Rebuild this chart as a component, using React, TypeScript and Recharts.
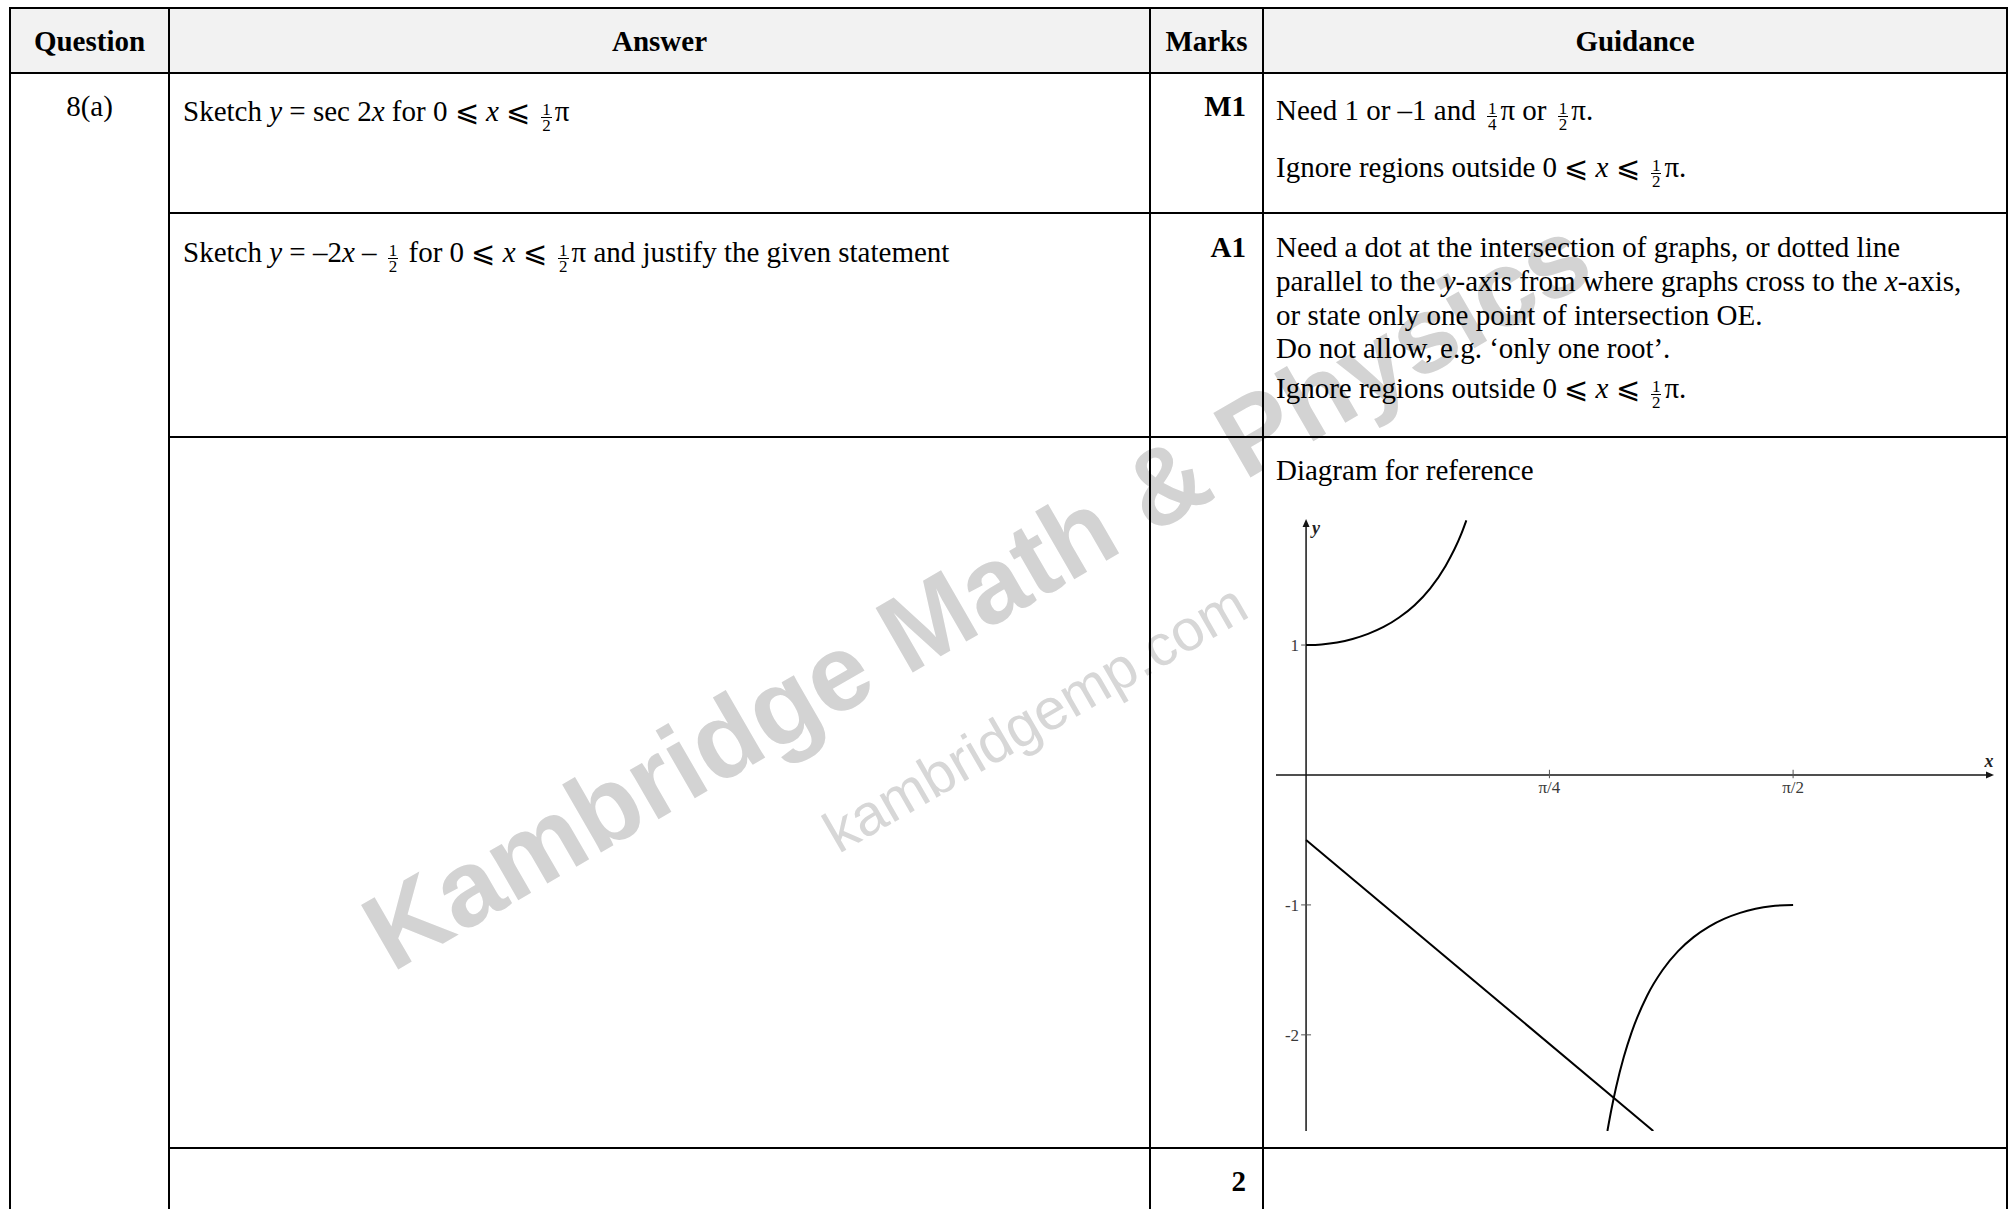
import React from 'react';
import { LineChart, Line, XAxis, YAxis, ReferenceLine } from 'recharts';

// points
const upperX = [0, 0.05, 0.1, 0.15, 0.2, 0.25, 0.3, 0.35, 0.4, 0.45, 0.5, 0.517];
const upperY = [1, 1.005, 1.02, 1.047, 1.086, 1.139, 1.212, 1.307, 1.435, 1.609, 1.851, 1.96];
const lowerX = [0.972, 0.985, 1.0, 1.025, 1.05, 1.1, 1.15, 1.2, 1.25, 1.3, 1.35, 1.4, 1.45, 1.5, 1.571];
const lowerY = [-2.74, -2.573, -2.403, -2.169, -1.981, -1.699, -1.501, -1.356, -1.248, -1.167, -1.106, -1.061, -1.03, -1.01, -1];
const lineX = [0, 1.12];
const lineY = [-0.5, -2.74];

const xTickValues = [0.785, 1.571];
const xTickLabels = ['π/4', 'π/2'];
const yTickValues = [1, -1, -2];
const yTickLabels = ['1', '-1', '-2'];

const xDomain = [-0.097, 2.219];
const yDomain = [-2.74, 1.97];

const zip = (xs: number[], ys: number[]) => xs.map((x, i) => ({ x, y: ys[i] }));

const SERIF = '"Liberation Serif", "Times New Roman", serif';
const AXIS = '#151515';

const Frac = ({ n, d }: { n: string; d: string }) => (
  <span
    style={{
      display: 'inline-block',
      verticalAlign: '-10px',
      textAlign: 'center',
      fontSize: '17px',
      lineHeight: '15px',
      margin: '0 3px 0 4px',
    }}
  >
    <span style={{ display: 'block', borderBottom: '1px solid #000', padding: '0 1px' }}>{n}</span>
    <span style={{ display: 'block' }}>{d}</span>
  </span>
);

const I = ({ children }: { children: React.ReactNode }) => <i>{children}</i>;

interface TxtProps {
  x: number;
  base: number;
  w?: number;
  align?: 'left' | 'center' | 'right';
  bold?: boolean;
  children: React.ReactNode;
}

const Txt = ({ x, base, w, align = 'left', bold, children }: TxtProps) => (
  <div
    style={{
      position: 'absolute',
      left: x,
      top: base - 27,
      width: w,
      textAlign: align,
      fontFamily: SERIF,
      fontSize: 29,
      lineHeight: '34px',
      fontWeight: bold ? 'bold' : 'normal',
      whiteSpace: 'nowrap',
      color: '#000',
    }}
  >
    {children}
  </div>
);

const HLine = ({ y, x1, x2 }: { y: number; x1: number; x2: number }) => (
  <div style={{ position: 'absolute', left: x1, top: y - 1, width: x2 - x1, height: 2, background: '#000' }} />
);
const VLine = ({ x, y1, y2, w = 2 }: { x: number; y1: number; y2: number; w?: number }) => (
  <div style={{ position: 'absolute', left: x - 1, top: y1, width: w, height: y2 - y1, background: '#000' }} />
);

const XArrow = (p: any) => {
  const xs = Math.min(p.x1, p.x2);
  const xe = Math.max(p.x1, p.x2);
  const y = p.y1;
  return (
    <g>
      <line x1={xs} y1={y} x2={xe - 5} y2={y} stroke={AXIS} strokeWidth={1.5} />
      <polygon points={`${xe},${y} ${xe - 8},${y - 3.5} ${xe - 8},${y + 3.5}`} fill={AXIS} />
      <text x={xe - 5} y={y - 8} textAnchor="middle" fontFamily={SERIF} fontStyle="italic" fontWeight="bold" fontSize={18} fill="#222">
        x
      </text>
    </g>
  );
};

const YArrow = (p: any) => {
  const ys = Math.min(p.y1, p.y2);
  const ye = Math.max(p.y1, p.y2);
  const x = p.x1;
  return (
    <g>
      <line x1={x} y1={ys + 5} x2={x} y2={ye} stroke={AXIS} strokeWidth={1.5} />
      <polygon points={`${x},${ys} ${x - 3.5},${ys + 8} ${x + 3.5},${ys + 8}`} fill={AXIS} />
      <text x={x + 6} y={ys + 15} textAnchor="start" fontFamily={SERIF} fontStyle="italic" fontWeight="bold" fontSize={18} fill="#222">
        y
      </text>
    </g>
  );
};

const tickLabel = { fontFamily: SERIF, fontSize: 17, fill: '#3a3a3a' };

const Sketch = () => (
  <LineChart width={744} height={710} margin={{ top: 81, right: 13, bottom: 17, left: 13 }}>
    <XAxis type="number" dataKey="x" domain={xDomain} allowDataOverflow hide />
    <YAxis type="number" dataKey="y" domain={yDomain} allowDataOverflow hide />
    <ReferenceLine y={0} shape={XArrow} />
    <ReferenceLine x={0} shape={YArrow} />
    {xTickValues.map((v, i) => (
      <ReferenceLine
        key={`xt-${i}`}
        segment={[{ x: v, y: -0.025 }, { x: v, y: 0.04 }]}
        stroke="#555"
        strokeWidth={1}
        label={{ value: xTickLabels[i], position: 'bottom', offset: 3, ...tickLabel }}
      />
    ))}
    {yTickValues.map((v, i) => (
      <ReferenceLine
        key={`yt-${i}`}
        segment={[{ x: -0.016, y: v }, { x: 0.016, y: v }]}
        stroke="#555"
        strokeWidth={1}
        label={{ value: yTickLabels[i], position: 'left', offset: 2, ...tickLabel }}
      />
    ))}
    <Line data={zip(upperX, upperY)} dataKey="y" type="monotone" stroke="#000" strokeWidth={2} dot={false} activeDot={false} isAnimationActive={false} />
    <Line data={zip(lowerX, lowerY)} dataKey="y" type="monotone" stroke="#000" strokeWidth={2} dot={false} activeDot={false} isAnimationActive={false} />
    <Line data={zip(lineX, lineY)} dataKey="y" type="linear" stroke="#000" strokeWidth={2} dot={false} activeDot={false} isAnimationActive={false} />
  </LineChart>
);

const Watermark = () => (
  <svg width={2009} height={1209} style={{ position: 'absolute', left: 0, top: 0 }}>
    <text
      x={995}
      y={625}
      transform="rotate(-30 995 625)"
      textAnchor="middle"
      fontFamily='"Liberation Sans", Arial, sans-serif'
      fontWeight="bold"
      fontSize={108}
      fill="#d3d3d3"
    >
      Kambridge Math &amp; Physics
    </text>
    <text
      x={1045}
      y={735}
      transform="rotate(-30 1045 735)"
      textAnchor="middle"
      fontFamily='"Liberation Sans", Arial, sans-serif'
      fontSize={58}
      fill="#d7d7d7"
    >
      kambridgemp.com
    </text>
  </svg>
);

export default function App() {
  return (
    <div style={{ position: 'absolute', left: 0, top: 0, width: 2009, height: 1209, overflow: 'hidden', background: '#fff' }}>
      {/* header shading */}
      <div style={{ position: 'absolute', left: 10, top: 8, width: 1997, height: 65, background: '#f2f2f2' }} />
      <Watermark />

      <div style={{ position: 'absolute', left: 1263, top: 438 }}>
        <Sketch />
      </div>

      {/* grid lines */}
      <HLine y={8} x1={9} x2={2008} />
      <HLine y={73} x1={9} x2={2008} />
      <HLine y={213} x1={168} x2={2008} />
      <HLine y={437} x1={168} x2={2008} />
      <HLine y={1148} x1={168} x2={2008} />
      <VLine x={10} y1={7} y2={1209} />
      <VLine x={169} y1={7} y2={1209} />
      <VLine x={1150} y1={7} y2={1209} w={1.5} />
      <VLine x={1263} y1={7} y2={1209} />
      <VLine x={2007} y1={7} y2={1209} />

      {/* header */}
      <Txt x={10} w={159} base={51} align="center" bold>Question</Txt>
      <Txt x={169} w={981} base={51} align="center" bold>Answer</Txt>
      <Txt x={1150} w={113} base={51} align="center" bold>Marks</Txt>
      <Txt x={1263} w={744} base={51} align="center" bold>Guidance</Txt>

      {/* row 1 */}
      <Txt x={10} w={159} base={116} align="center">8(a)</Txt>
      <Txt x={183} base={121}>
        Sketch <I>y</I> = sec 2<I>x</I> for 0 ⩽ <I>x</I> ⩽ <Frac n="1" d="2" />π
      </Txt>
      <Txt x={1150} w={96} base={116} align="right" bold>M1</Txt>
      <Txt x={1276} base={120}>
        Need 1 or –1 and <Frac n="1" d="4" />π or <Frac n="1" d="2" />π.
      </Txt>
      <Txt x={1276} base={177}>
        Ignore regions outside 0 ⩽ <I>x</I> ⩽ <Frac n="1" d="2" />π.
      </Txt>

      {/* row 2 */}
      <Txt x={183} base={262}>
        Sketch <I>y</I> = –2<I>x</I> – <Frac n="1" d="2" /> for 0 ⩽ <I>x</I> ⩽ <Frac n="1" d="2" />π and justify the given statement
      </Txt>
      <Txt x={1150} w={96} base={257} align="right" bold>A1</Txt>
      <Txt x={1276} base={257}>Need a dot at the intersection of graphs, or dotted line</Txt>
      <Txt x={1276} base={291}>
        parallel to the <I>y</I>-axis from where graphs cross to the <I>x</I>-axis,
      </Txt>
      <Txt x={1276} base={325}>or state only one point of intersection OE.</Txt>
      <Txt x={1276} base={358}>Do not allow, e.g. ‘only one root’.</Txt>
      <Txt x={1276} base={398}>
        Ignore regions outside 0 ⩽ <I>x</I> ⩽ <Frac n="1" d="2" />π.
      </Txt>

      {/* row 3 */}
      <Txt x={1276} base={480}>Diagram for reference</Txt>

      {/* row 4 */}
      <Txt x={1150} w={96} base={1191} align="right" bold>2</Txt>
    </div>
  );
}
